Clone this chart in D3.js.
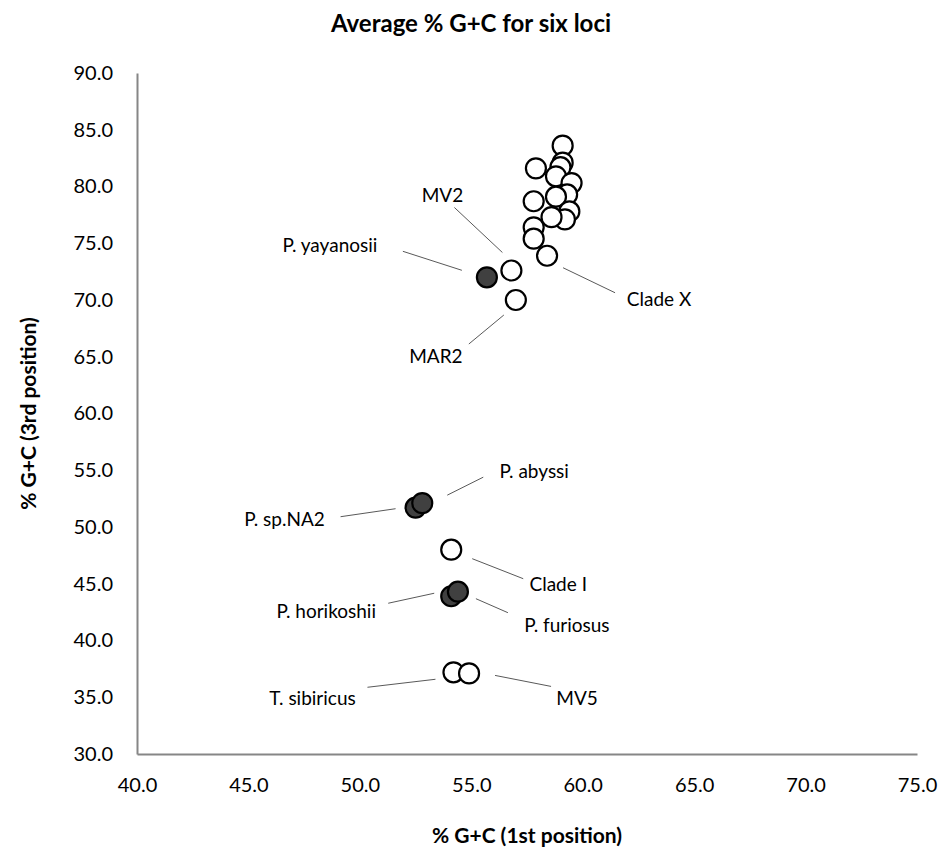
<!DOCTYPE html>
<html>
<head>
<meta charset="utf-8">
<script src="https://cdnjs.cloudflare.com/ajax/libs/d3/7.8.5/d3.min.js"></script>
<style>
  body { margin: 0; background: #fff; }
  text { font-family: Lato, "Liberation Sans", sans-serif; }
</style>
</head>
<body>
<script>
var W = 942, H = 851;

// environmental / clade points (white)
var cladeX = [83.6, 82.1, 81.6, 81.7, 80.9, 80.3, 79.3, 79.1, 78.7, 77.8, 77.1, 77.3, 76.4, 75.4, 73.9];
var cladeXpos = [59.1, 59.1, 57.9, 59.0, 58.8, 59.5, 59.3, 58.8, 57.8, 59.4, 59.2, 58.6, 57.8, 57.8, 58.4];

var whiteNames = ['MV2', 'MAR2', 'Clade I', 'T. sibiricus', 'MV5'];
var whiteX = [56.8, 57.0, 54.1, 54.2, 54.9];
var whiteY = [72.6, 70.0, 48.0, 37.2, 37.1];

// Pyrococcus species (dark)
var darkNames = ['P. yayanosii', 'P. sp.NA2', 'P. abyssi', 'P. horikoshii', 'P. furiosus'];
var darkX = [55.7, 52.5, 52.8, 54.1, 54.4];
var darkY = [72.0, 51.7, 52.1, 43.9, 44.3];

var xTicks = [40, 45, 50, 55, 60, 65, 70, 75];
var yTicks = [30, 35, 40, 45, 50, 55, 60, 65, 70, 75, 80, 85, 90];

// label offsets from the point (px): label centre, leader start, leader end
var labels = [
  { name: 'MV2', lx: -69, ly: -75, a: [-57, -63], b: [-9, -18] },
  { name: 'P. yayanosii', lx: -157, ly: -32, a: [-84, -26], b: [-25, -7] },
  { name: 'MAR2', lx: -80, ly: 56, a: [-47, 44], b: [-12, 15] },
  { name: 'Clade X', lx: 112, ly: 44, a: [16, 12], b: [68, 37] },
  { name: 'P. abyssi', lx: 112, ly: -32, a: [25, -8], b: [61, -26] },
  { name: 'P. sp.NA2', lx: -131, ly: 12, a: [-75, 9], b: [-20, 1] },
  { name: 'Clade I', lx: 107, ly: 35, a: [21, 9], b: [72, 29] },
  { name: 'P. horikoshii', lx: -125, ly: 15, a: [-63, 7], b: [-17, -3] },
  { name: 'P. furiosus', lx: 109, ly: 34, a: [18, 7], b: [50, 21] },
  { name: 'T. sibiricus', lx: -141, ly: 26, a: [-86, 15], b: [-18, 7] },
  { name: 'MV5', lx: 108, ly: 25, a: [26, 2], b: [82, 13] }
];

var m = { left: 137, right: 917, top: 73, bottom: 754 };

var x = d3.scaleLinear().domain([40, 75]).range([m.left, m.right]);
var y = d3.scaleLinear().domain([30, 90]).range([m.bottom, m.top]);

var svg = d3.select('body').append('svg').attr('width', W).attr('height', H);

// axes
var xAxis = svg.append('g').attr('transform', 'translate(0,' + m.bottom + ')')
  .call(d3.axisBottom(x).tickValues(xTicks).tickSize(0).tickPadding(24).tickFormat(d3.format('.1f')));
var yAxis = svg.append('g').attr('transform', 'translate(' + m.left + ',0)')
  .call(d3.axisLeft(y).tickValues(yTicks).tickSize(0).tickPadding(24).tickFormat(d3.format('.1f')));
[xAxis, yAxis].forEach(function (g) {
  g.select('.domain').attr('stroke', '#868686').attr('stroke-width', 2);
  g.selectAll('text').attr('font-size', 20).attr('fill', '#000')
    .style('font-family', 'Lato, "Liberation Sans", sans-serif');
});

// titles
svg.append('text').attr('x', 471).attr('y', 32).attr('text-anchor', 'middle')
  .attr('font-size', 24).attr('font-weight', 'bold').text('Average % G+C for six loci');
svg.append('text').attr('x', (m.left + m.right) / 2).attr('y', 843).attr('text-anchor', 'middle')
  .attr('font-size', 21).attr('font-weight', 'bold').text('% G+C (1st position)');
svg.append('text').attr('transform', 'translate(36,' + (m.top + m.bottom) / 2 + ') rotate(-90)')
  .attr('text-anchor', 'middle')
  .attr('font-size', 21).attr('font-weight', 'bold').text('% G+C (3rd position)');

// points: build list with names for label anchoring
var pts = [];
cladeX.forEach(function (v, i) { pts.push({ name: i === cladeX.length - 1 ? 'Clade X' : null, x: cladeXpos[i], y: v, dark: false }); });
whiteNames.forEach(function (n, i) { pts.push({ name: n, x: whiteX[i], y: whiteY[i], dark: false }); });
darkNames.forEach(function (n, i) { pts.push({ name: n, x: darkX[i], y: darkY[i], dark: true }); });

svg.append('g').selectAll('circle').data(pts).enter().append('circle')
  .attr('cx', function (d) { return x(d.x); })
  .attr('cy', function (d) { return y(d.y); })
  .attr('r', 10)
  .attr('fill', function (d) { return d.dark ? '#404040' : '#fff'; })
  .attr('stroke', '#000').attr('stroke-width', 2.2);

// labels and leader lines
var byName = {};
pts.forEach(function (p) { if (p.name) byName[p.name] = p; });
var lg = svg.append('g');
labels.forEach(function (l) {
  var p = byName[l.name], px = x(p.x), py = y(p.y);
  lg.append('line')
    .attr('x1', px + l.a[0]).attr('y1', py + l.a[1])
    .attr('x2', px + l.b[0]).attr('y2', py + l.b[1])
    .attr('stroke', '#595959').attr('stroke-width', 1);
  lg.append('text').attr('x', px + l.lx).attr('y', py + l.ly).attr('dy', '0.35em')
    .attr('text-anchor', 'middle').attr('font-size', 19).text(l.name);
});
</script>
</body>
</html>
